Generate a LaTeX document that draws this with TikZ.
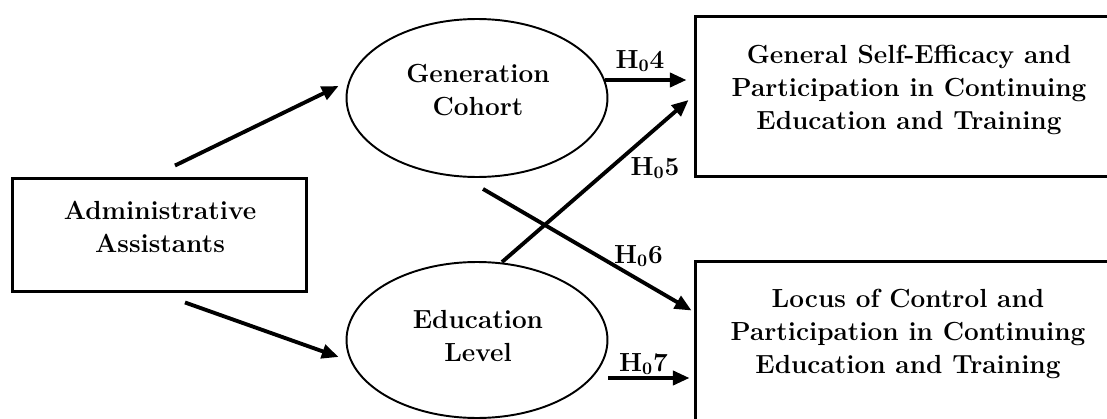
\documentclass[tikz,border=0pt]{standalone}
\usetikzlibrary{arrows.meta,positioning,calc,shapes.geometric}

\begin{document}
\begin{tikzpicture}[x=0.02cm,y=-0.02cm,
  font=\fontsize{14.9}{18.6}\selectfont\bfseries,
  box/.style={draw,line width=1.7pt,inner sep=0pt},
  latent/.style={draw,ellipse,line width=1.1pt,inner sep=0pt},
  txt/.style={align=center,inner sep=0pt},
  arr/.style={line width=2.2pt,-{Triangle[length=9.5pt,width=8pt]}},
  hyp/.style={inner sep=0pt}]
  % ---- frame (boxes run past the right and bottom edges) ----
  \useasboundingbox (0,0) rectangle (1107,419);
  \clip (0,0) rectangle (1107,419);

  % ---- boxes and ellipses ----
  \node[box,minimum width=5.9cm,minimum height=2.28cm] (admin) at (159.5,235) {};
  \node[latent,minimum width=5.22cm,minimum height=3.16cm] (cohort) at (477,98) {};
  \node[latent,minimum width=5.22cm,minimum height=3.12cm] (edu) at (477,340) {};
  \node[box,minimum width=8.52cm,minimum height=3.22cm] (efficacy) at (908,96.5) {};
  \node[box,minimum width=8.52cm,minimum height=3.22cm] (locus) at (908,341.5) {};

  % ---- texts ----
  \node[txt] (admintxt) at (160,227) {Administrative\\Assistants};
  \node[txt] (cohorttxt) at (478,90) {Generation\\Cohort};
  \node[txt] (edutxt) at (478,336) {Education\\Level};
  \node[txt] (efficacytxt) at (909,90) {General Self-Efficacy and\\Participation in Continuing\\Education and Training};
  \node[txt] (locustxt) at (908,334) {Locus of Control and\\Participation in Continuing\\Education and Training};

  % ---- paths ----
  \draw[arr] ($(admin.north)+(15.5,-11)$) -- ($(cohort.west)+(-7,-12)$);
  \draw[arr] ($(admin.south)+(25.5,9)$) -- ($(edu.west)+(-7,17)$);
  \draw[arr] (cohort.8) -- ($(cohort.8 -| efficacy.west)+(-7,0)$);
  \draw[arr] ($(edu.north)+(25,1)$) -- ($(efficacy.west)+(-5,3.5)$);
  \draw[arr] ($(cohort.south)+(6,11)$) -- ($(locus.north west)+(-2,51)$);
  \draw[arr] ($(edu.east)+(0,38)$) -- ($(edu.east -| locus.west)+(-4,38)$);

  % ---- hypothesis labels ----
  \node[hyp] (h4) at (640,61) {H$_{\mathbf{0}}$4};
  \node[hyp] (h5) at (655,168) {H$_{\mathbf{0}}$5};
  \node[hyp] (h6) at (638.5,256) {H$_{\mathbf{0}}$6};
  \node[hyp] (h7) at (643.5,364) {H$_{\mathbf{0}}$7};
\end{tikzpicture}
\end{document}
